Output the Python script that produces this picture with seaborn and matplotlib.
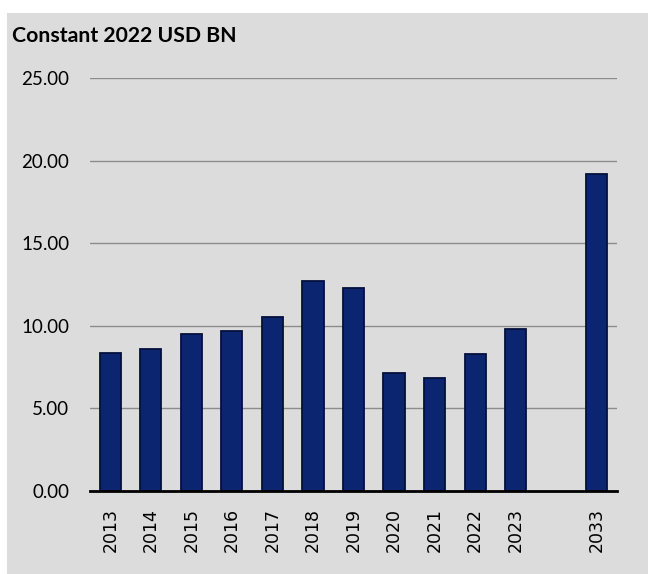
import matplotlib
matplotlib.use('Agg')
import matplotlib.pyplot as plt
from matplotlib.patches import Rectangle
from matplotlib.ticker import FormatStrFormatter
import pandas as pd
import seaborn as sns

# Values (constant 2022 USD BN)
years = ['2013', '2014', '2015', '2016', '2017', '2018', '2019',
         '2020', '2021', '2022', '2023', '2033']
values = [8.37, 8.62, 9.53, 9.67, 10.52, 12.70, 12.26,
          7.13, 6.83, 8.28, 9.79, 19.17]
# empty slot between 2023 and 2033
order = years[:11] + [' '] + years[11:]
y_ticks = [0, 5, 10, 15, 20, 25]

bg = '#dcdcdc'
bar_color = '#0c2571'

df = pd.DataFrame({'year': years, 'value': values})

sns.set_style('white')
fig = plt.figure(figsize=(6.48, 5.74), dpi=100)
fig.patch.set_facecolor('white')
fig.patches.append(Rectangle((7 / 648, 0), 1 - 7 / 648, 1 - 13 / 574,
                             transform=fig.transFigure, facecolor=bg,
                             edgecolor='none', zorder=-10))

ax = fig.add_axes([90 / 648, 1 - 491 / 574, (617 - 90) / 648, (491 - 78) / 574])
ax.set_facecolor(bg)
ax.set_zorder(1)

sns.barplot(data=df, x='year', y='value', order=order, color=bar_color,
            saturation=1, width=0.52, edgecolor='#04103c', linewidth=1.3,
            errorbar=None, ax=ax)

ax.set_ylim(0, 25)
ax.set_xlim(-0.5, len(order) - 0.5)
ax.set_yticks(y_ticks)
ax.yaxis.set_major_formatter(FormatStrFormatter('%.2f'))
ax.yaxis.grid(True, color='#8c8c8c', linewidth=1)
ax.set_axisbelow(True)
for side in ['top', 'right', 'left']:
    ax.spines[side].set_visible(False)
ax.spines['bottom'].set_color('black')
ax.spines['bottom'].set_linewidth(2)
ax.spines['bottom'].set_zorder(5)
ax.set_xlabel('')
ax.set_ylabel('')

ax.tick_params(axis='y', length=0, pad=15, labelcolor='black')
ax.tick_params(axis='x', length=0, pad=12, labelcolor='black')
for lbl in ax.get_yticklabels():
    lbl.set_fontfamily('Lato')
    lbl.set_fontsize(13.5)
for lbl in ax.get_xticklabels():
    lbl.set_fontfamily('DejaVu Sans')
    lbl.set_fontsize(12.5)
    lbl.set_rotation(90)

fig.text(12 / 648, 1 - 42 / 574, 'Constant 2022 USD BN', fontfamily='Lato',
         fontweight='bold', fontsize=15.3, va='baseline', ha='left',
         color='black')

fig.savefig('out.png', dpi=100, facecolor=fig.get_facecolor())
